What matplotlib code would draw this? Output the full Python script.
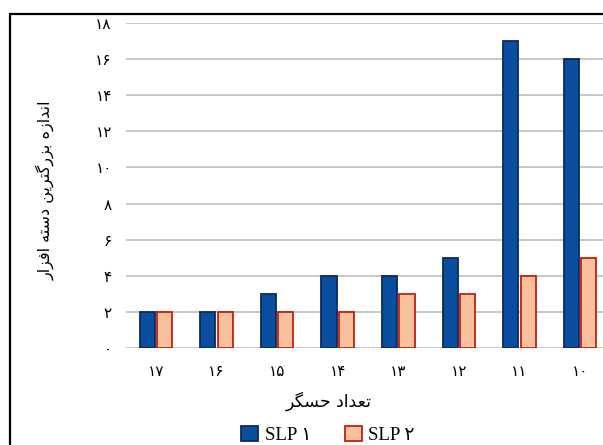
import matplotlib
matplotlib.use("Agg")
import matplotlib.pyplot as plt
from matplotlib import font_manager, ft2font
from matplotlib.patches import Rectangle, Patch

# ---- data ----
categories = ["۱۷", "۱۶", "۱۵", "۱۴", "۱۳", "۱۲", "۱۱", "۱۰"]
slp1 = [2, 2, 3, 4, 4, 5, 17, 16]
slp2 = [2, 2, 2, 2, 3, 3, 4, 5]
yticks = [0, 2, 4, 6, 8, 10, 12, 14, 16, 18]
ytick_labels = ["۰", "۲", "۴", "۶", "۸", "۱۰", "۱۲", "۱۴", "۱۶", "۱۸"]
series_names = ["SLP ۱", "SLP ۲"]
ylabel_text = "اندازه بزرگترین دسته افزار"
xlabel_text = "تعداد حسگر"

# ---- minimal Arabic/Persian shaping (matplotlib has no complex text layout) ----
DUAL = {
    'ب': (0xFE8F, 0xFE90, 0xFE91, 0xFE92), 'ت': (0xFE95, 0xFE96, 0xFE97, 0xFE98),
    'ج': (0xFE9D, 0xFE9E, 0xFE9F, 0xFEA0), 'ح': (0xFEA1, 0xFEA2, 0xFEA3, 0xFEA4),
    'س': (0xFEB1, 0xFEB2, 0xFEB3, 0xFEB4), 'ع': (0xFEC9, 0xFECA, 0xFECB, 0xFECC),
    'ف': (0xFED1, 0xFED2, 0xFED3, 0xFED4), 'ل': (0xFEDD, 0xFEDE, 0xFEDF, 0xFEE0),
    'م': (0xFEE1, 0xFEE2, 0xFEE3, 0xFEE4), 'ن': (0xFEE5, 0xFEE6, 0xFEE7, 0xFEE8),
    'ه': (0xFEE9, 0xFEEA, 0xFEEB, 0xFEEC), 'ی': (0xFBFC, 0xFBFD, 0xFBFE, 0xFBFF),
    'گ': (0xFB92, 0xFB93, 0xFB94, 0xFB95), 'ک': (0xFB8E, 0xFB8F, 0xFB90, 0xFB91),
}
RIGHT = {
    'ا': (0xFE8D, 0xFE8E), 'د': (0xFEA9, 0xFEAA), 'ر': (0xFEAD, 0xFEAE),
    'ز': (0xFEAF, 0xFEB0), 'و': (0xFEED, 0xFEEE),
}
try:
    _cmap = ft2font.FT2Font(font_manager.findfont("DejaVu Sans")).get_charmap()
except Exception:
    _cmap = {}


def _pick(cp, base):
    return chr(cp) if cp in _cmap else base


def shape(text):
    out = []
    n = len(text)
    for i, ch in enumerate(text):
        prev = text[i - 1] if i > 0 else ''
        nxt = text[i + 1] if i < n - 1 else ''
        jp = prev in DUAL and (ch in DUAL or ch in RIGHT)
        if ch in DUAL:
            jn = nxt in DUAL or nxt in RIGHT
            f = DUAL[ch]
            if jp and jn:
                out.append(_pick(f[3], ch))
            elif jp:
                out.append(_pick(f[1], ch))
            elif jn:
                out.append(_pick(f[2], ch))
            else:
                out.append(_pick(f[0], ch))
        elif ch in RIGHT:
            f = RIGHT[ch]
            out.append(_pick(f[1], ch) if jp else _pick(f[0], ch))
        else:
            out.append(ch)
    return ''.join(reversed(out))


# ---- figure ----
W, H = 603, 445
fig = plt.figure(figsize=(W / 100, H / 100), dpi=100)
fig.patch.set_facecolor("white")

# outer frame (extends beyond the picture on right and bottom)
fig.patches.append(Rectangle((10 / W, -0.2), 1.5, 1 - 14 / H + 0.2,
                             transform=fig.transFigure, fill=False,
                             edgecolor="black", linewidth=1.6, zorder=0))

ax = fig.add_axes([125.7 / W, (H - 347.7) / H, (610.3 - 125.7) / W, (347.7 - 23.3) / H])
ax.set_facecolor("none")

x = list(range(len(categories)))
bw = 0.25
off = 0.143
c1_face, c1_edge = "#0a4f9f", "#0c2a5c"
c2_face, c2_edge = "#f8c09c", "#c0200e"
ax.bar([v - off for v in x], slp1, width=bw, color=c1_face, edgecolor=c1_edge,
       linewidth=1.3, zorder=3)
ax.bar([v + off for v in x], slp2, width=bw, color=c2_face, edgecolor=c2_edge,
       linewidth=1.3, zorder=3)

ax.set_xlim(-0.5, len(categories) - 0.5)
ax.set_ylim(0, 18)
ax.set_yticks(yticks)
ax.set_yticklabels(ytick_labels)
ax.set_xticks(x)
ax.set_xticklabels(categories)
ax.yaxis.grid(True, color="#c8c8c8", linewidth=1.4, zorder=0)
ax.set_axisbelow(True)
for s in ax.spines.values():
    s.set_visible(False)
ax.tick_params(axis="both", length=0, labelsize=11, colors="black")
ax.tick_params(axis="y", pad=10)
ax.tick_params(axis="x", pad=12)

fig.text(45 / W, 1 - 190 / H, shape(ylabel_text), rotation=90, ha="center",
         va="center", fontsize=11.5, family=["DejaVu Sans"])
fig.text(329 / W, 1 - 401 / H, shape(xlabel_text), ha="center", va="center",
         fontsize=12.5, family=["DejaVu Sans"])

handles = [Patch(facecolor=c1_face, edgecolor=c1_edge, linewidth=1.3),
           Patch(facecolor=c2_face, edgecolor=c2_edge, linewidth=1.3)]
fig.legend(handles, series_names, loc="center", bbox_to_anchor=(328 / W, 1 - 435 / H),
           ncol=2, frameon=False, handlelength=0.9, handleheight=0.9,
           handletextpad=0.35, columnspacing=1.8,
           prop={"family": ["Liberation Serif", "DejaVu Sans"], "size": 13.5})

fig.savefig("out.png", dpi=100)
